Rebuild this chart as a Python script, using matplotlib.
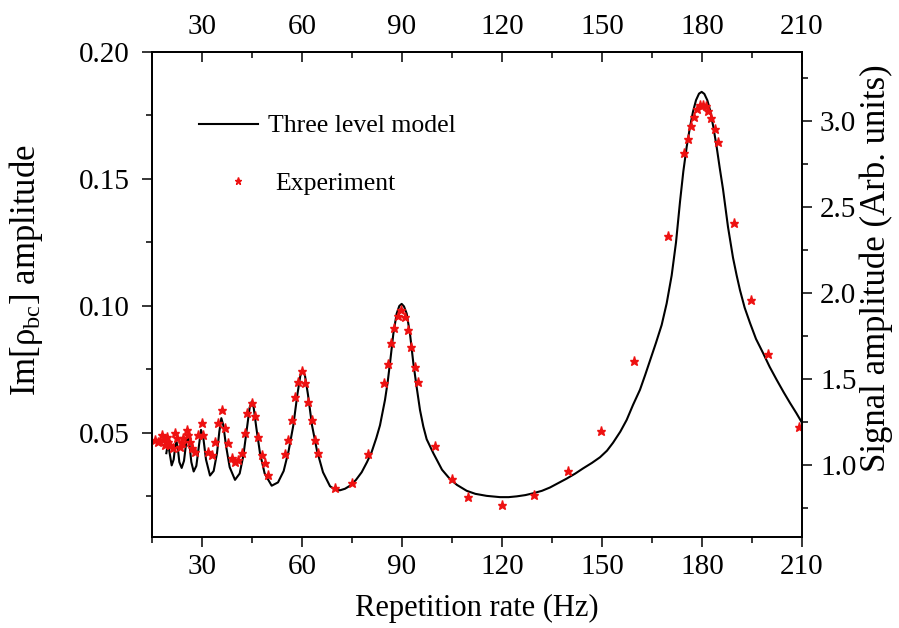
import matplotlib
matplotlib.use("Agg")
import matplotlib.pyplot as plt
from matplotlib.ticker import MultipleLocator, FormatStrFormatter

# ---------------------------------------------------------------
# data
# ---------------------------------------------------------------
# three level model (left axis)
model_hz = [19.3, 19.6, 19.9, 20.3, 20.9, 21.5, 22.0, 22.3, 22.7, 23.2,
            23.9, 24.6, 25.2, 25.7, 26.2, 26.8, 27.5, 28.3, 29.0, 29.7,
            30.4, 31.2, 32.4, 33.5, 34.5, 35.2, 35.8, 36.4, 37.2, 38.3,
            39.9, 41.3, 42.4, 43.5, 44.3, 44.9, 45.5, 46.3, 47.4, 48.8,
            50.9, 52.8, 54.5, 56.0, 57.4, 58.6, 59.5, 60.2, 60.9, 61.8,
            63.0, 64.5, 66.3, 68.4, 70.0, 71.4, 72.9, 74.4, 76.2, 77.9,
            79.5, 80.9, 82.3, 83.4, 84.9, 85.7, 86.4, 87.4, 88.4, 89.2,
            89.9, 90.6, 91.4, 92.4, 93.4, 94.4, 95.4, 96.4, 97.4, 99.4,
            100.4, 102.0, 104.4, 106.5, 109.4, 112.0, 115.4, 119.4, 122.0, 124.4,
            127.0, 129.3, 132.0, 134.4, 137.0, 139.4, 142.0, 144.3, 147.0, 149.4,
            151.5, 153.3, 155.5, 157.4, 159.3, 161.4, 163.0, 164.4, 166.2, 167.9,
            169.4, 170.9, 172.2, 173.4, 174.4, 175.4, 176.4, 177.3, 178.2, 179.1,
            179.9, 180.7, 181.6, 182.4, 183.4, 184.4, 185.3, 186.3, 187.8, 189.3,
            190.4, 191.4, 192.8, 194.4, 196.2, 198.3, 200.3, 202.4, 204.5, 206.4,
            208.3, 210.0]
model_amp = [0.0420, 0.0445, 0.0452, 0.0420, 0.0372, 0.0395, 0.0450, 0.0466, 0.0445, 0.0385,
             0.0362, 0.0390, 0.0455, 0.0488, 0.0460, 0.0385, 0.0348, 0.0370, 0.0440, 0.0512,
             0.0480, 0.0395, 0.0332, 0.0350, 0.0420, 0.0505, 0.0558, 0.0530, 0.0450, 0.0365,
             0.0315, 0.0340, 0.0410, 0.0520, 0.0600, 0.0623, 0.0600, 0.0520, 0.0420, 0.0340,
             0.0292, 0.0305, 0.0350, 0.0430, 0.0530, 0.0650, 0.0725, 0.0745, 0.0725, 0.0650,
             0.0530, 0.0430, 0.0345, 0.0290, 0.0276, 0.0274, 0.0280, 0.0292, 0.0315, 0.0345,
             0.0385, 0.0425, 0.0480, 0.0530, 0.0630, 0.0700, 0.0775, 0.0890, 0.0970, 0.1000,
             0.1008, 0.0998, 0.0970, 0.0890, 0.0775, 0.0680, 0.0590, 0.0525, 0.0475, 0.0420,
             0.0395, 0.0355, 0.0318, 0.0295, 0.0272, 0.0260, 0.0252, 0.0247, 0.0247, 0.0250,
             0.0255, 0.0262, 0.0272, 0.0285, 0.0303, 0.0320, 0.0340, 0.0360, 0.0382, 0.0404,
             0.0430, 0.0461, 0.0505, 0.0551, 0.0610, 0.0670, 0.0730, 0.0785, 0.0855, 0.0925,
             0.1010, 0.1120, 0.1250, 0.1410, 0.1530, 0.1626, 0.1705, 0.1765, 0.1810, 0.1836,
             0.1843, 0.1835, 0.1810, 0.1772, 0.1705, 0.1626, 0.1545, 0.1460, 0.1311, 0.1190,
             0.1120, 0.1062, 0.0993, 0.0933, 0.0870, 0.0815, 0.0760, 0.0709, 0.0660, 0.0618,
             0.0578, 0.0540]

# experiment (right axis)
exp_hz = [15.9, 16.9, 17.9, 18.4, 18.9, 19.4, 19.9, 20.4, 21.4, 21.9,
          22.4, 23.4, 23.9, 24.4, 25.4, 25.9, 26.4, 26.9, 27.9, 28.9,
          29.9, 30.4, 31.9, 32.9, 33.9, 34.9, 35.9, 36.9, 37.9, 38.9,
          39.9, 40.9, 41.9, 42.9, 43.6, 44.9, 45.9, 46.9, 47.9, 48.9,
          49.9, 54.9, 55.9, 56.9, 57.9, 58.9, 59.9, 60.9, 61.9, 62.9,
          63.9, 64.9, 69.9, 74.9, 79.9, 84.7, 85.9, 86.7, 87.7, 88.7,
          89.7, 90.9, 91.7, 92.7, 93.9, 94.7, 99.9, 104.9, 109.7, 119.9,
          129.7, 139.7, 149.7, 159.7, 169.7, 174.7, 175.9, 176.7, 177.7, 178.6,
          179.4, 180.4, 181.1, 181.9, 182.7, 183.9, 184.9, 189.7, 194.7, 199.9,
          209.2]
exp_signal = [1.144, 1.134, 1.173, 1.144, 1.115, 1.163, 1.134, 1.115, 1.096, 1.183,
              1.154, 1.105, 1.125, 1.154, 1.202, 1.173, 1.134, 1.096, 1.076, 1.173,
              1.245, 1.173, 1.076, 1.057, 1.134, 1.241, 1.319, 1.212, 1.125, 1.038,
              1.018, 1.028, 1.067, 1.183, 1.299, 1.361, 1.284, 1.163, 1.057, 1.009,
              0.941, 1.063, 1.144, 1.260, 1.396, 1.483, 1.545, 1.474, 1.367, 1.260,
              1.144, 1.067, 0.863, 0.892, 1.063, 1.474, 1.586, 1.706, 1.797, 1.865,
              1.900, 1.861, 1.784, 1.687, 1.567, 1.481, 1.109, 0.917, 0.813, 0.766,
              0.824, 0.964, 1.197, 1.605, 2.332, 2.811, 2.892, 2.972, 3.020, 3.067,
              3.092, 3.092, 3.088, 3.059, 3.015, 2.952, 2.878, 2.408, 1.960, 1.646,
              1.222]

x_ticks = [30, 60, 90, 120, 150, 180, 210]

# ---------------------------------------------------------------
# style
# ---------------------------------------------------------------
plt.rcParams['font.family'] = ['Liberation Serif', 'DejaVu Serif']
plt.rcParams['mathtext.fontset'] = 'custom'
plt.rcParams['mathtext.rm'] = 'Liberation Serif'
plt.rcParams['mathtext.it'] = 'Liberation Serif:italic'
plt.rcParams['axes.linewidth'] = 1.1

FS_TICK = 21
RED = '#ee1111'

fig = plt.figure(figsize=(8.99, 6.28), dpi=100)
ax = fig.add_axes([152/899, 1 - 537/628, 650/899, 485/628])

# model on left axis
line, = ax.plot(model_hz, model_amp, color='black', lw=1.5, label='Three level model')
ax.set_xlim(15, 210)
ax.set_ylim(0.009, 0.20)
ax.set_xticks(x_ticks)
ax.xaxis.set_minor_locator(MultipleLocator(15))
ax.yaxis.set_minor_locator(MultipleLocator(0.025))
ax.yaxis.set_major_formatter(FormatStrFormatter('%.2f'))
ax.set_yticks([0.05, 0.10, 0.15, 0.20])
ax.tick_params(axis='x', which='major', direction='out', length=7, width=1.1,
               labelsize=FS_TICK, top=False, pad=5)
ax.tick_params(axis='y', which='major', direction='out', length=7, width=1.1,
               labelsize=FS_TICK, right=False, pad=9)
ax.tick_params(axis='both', which='minor', direction='out', length=4, width=1.1,
               top=False, right=False)
ax.set_xlabel('Repetition rate (Hz)', fontsize=22, labelpad=10)
ax.set_ylabel('Im[ρ$_{\\mathrm{bc}}$] amplitude', fontsize=25, labelpad=24)
ax.yaxis.label.set_y(0.55)

# experiment on right axis
ax2 = ax.twinx()
stars, = ax2.plot(exp_hz, exp_signal, ls='none', marker='*', ms=6.5,
                  color=RED, mec=RED, label='Experiment')
ax2.set_ylim(0.58, 3.40)
ax2.yaxis.set_minor_locator(MultipleLocator(0.25))
ax2.yaxis.set_major_formatter(FormatStrFormatter('%.1f'))
ax2.set_yticks([1.0, 1.5, 2.0, 2.5, 3.0])
ax2.tick_params(axis='y', which='major', direction='out', length=7, width=1.1,
                labelsize=FS_TICK, pad=6)
ax2.tick_params(axis='y', which='minor', direction='out', length=4, width=1.1)
ax2.set_ylabel('Signal amplitude (Arb. units)', fontsize=25, labelpad=2)
ax2.yaxis.label.set_y(0.555)

# top axis
ax3 = ax.twiny()
ax3.set_xlim(ax.get_xlim())
ax3.set_xticks(x_ticks)
ax3.xaxis.set_minor_locator(MultipleLocator(15))
ax3.tick_params(axis='x', which='major', direction='in', length=7, width=1.1,
                labelsize=FS_TICK, pad=9)
ax3.tick_params(axis='x', which='minor', direction='in', length=4, width=1.1)

# legend: two entries placed separately, as in the original
fig.legend(handles=[line], loc='center left',
           bbox_to_anchor=(199/899, 1 - 126/628), frameon=False,
           fontsize=18.5, handlelength=2.3, handletextpad=0.4,
           borderpad=0, borderaxespad=0)
fig.legend(handles=[stars], loc='center left',
           bbox_to_anchor=(221/899, 1 - 184/628), frameon=False,
           fontsize=18.5, handlelength=1.3, handletextpad=0.8,
           borderpad=0, borderaxespad=0, markerscale=0.8)

fig.savefig('out.png', dpi=100)
